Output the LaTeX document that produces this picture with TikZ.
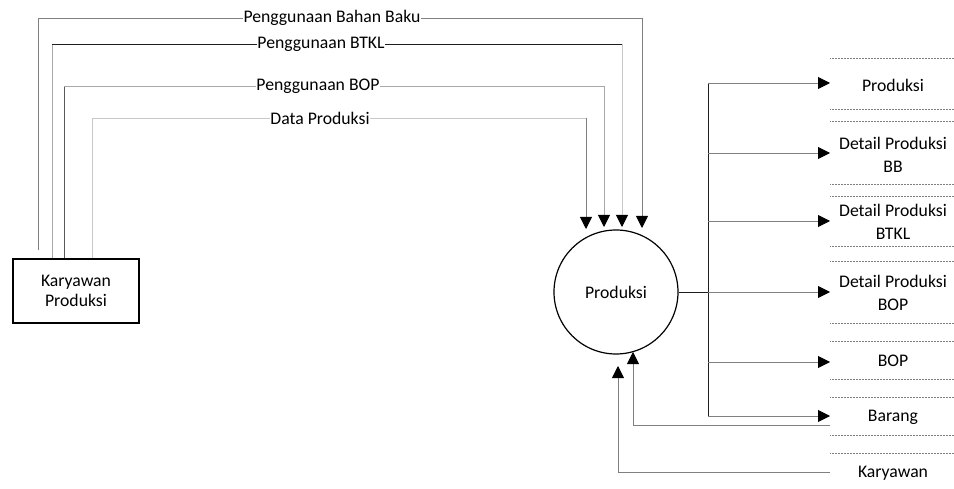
\documentclass[tikz,border=0pt]{standalone}
\usepackage{fontspec}
\setmainfont{Carlito}
\usetikzlibrary{arrows.meta}
\definecolor{gA}{HTML}{808080}
\definecolor{gB}{HTML}{A8A8A8}
\definecolor{gC}{HTML}{C8C8C8}
\definecolor{gD}{HTML}{5A5A5A}
\definecolor{gK}{HTML}{1E1E1E}
\begin{document}
\begin{tikzpicture}[x=1pt,y=-1pt,
  every node/.style={font=\fontsize{17.7}{23}\selectfont},
  ln/.style={line width=0.9pt},
  flow/.style={ln,-{Triangle[length=12pt,width=12pt,color=black]}},
  storeline/.style={gray, line width=0.6pt, dash pattern=on 0.9pt off 0.6pt},
  lbl/.style={fill=white, inner sep=0.6pt},
  storetext/.style={align=center, inner sep=0pt}]
\useasboundingbox (0,0) rectangle (954,489);

% main entities
\node[draw, line width=1.1pt, minimum width=126, minimum height=64, align=center, inner sep=0pt,
      font=\fontsize{17.7}{20.5}\selectfont] (kp) at (76,291) {Karyawan\\Produksi};
\node[draw, circle, line width=1.2pt, minimum size=124, inner sep=0pt] (proc) at (616,292) {Produksi};

% named coordinates
\coordinate (bb0) at (38,250);  \coordinate (bb1) at (38,18);  \coordinate (bb2) at (642,18);  \coordinate (bb3) at (642,228);
\coordinate (bt0) at (kp.north -| 52,0); \coordinate (bt1) at (52,44); \coordinate (bt2) at (622,44); \coordinate (bt3) at (622,227);
\coordinate (bo0) at (kp.north -| 64,0); \coordinate (bo1) at (64,86); \coordinate (bo2) at (604,86); \coordinate (bo3) at (604,227);
\coordinate (dp0) at (kp.north -| 92,0); \coordinate (dp1) at (92,118); \coordinate (dp2) at (586,118); \coordinate (dp3) at (586,229);

% Penggunaan Bahan Baku
\draw[ln,gA] (bb0) -- (bb1);
\draw[ln,gA] (bb1) -- (bb2);
\draw[flow,gA] (bb2) -- (bb3);
% Penggunaan BTKL
\draw[ln,gB] (bt0) -- (bt1);
\draw[ln,gK] (bt1) -- (bt2);
\draw[flow,gC] (bt2) -- (bt3);
% Penggunaan BOP
\draw[ln,gD] (bo0) -- (bo1);
\draw[ln,gB] (bo1) -- (bo2);
\draw[flow,gB] (bo2) -- (bo3);
% Data Produksi
\draw[ln,gC] (dp0) -- (dp1);
\draw[ln,gC] (dp1) -- (dp2);
\draw[flow,gA] (dp2) -- (dp3);

\node[lbl] (l1) at (332,18) {Penggunaan Bahan Baku};
\node[lbl] (l2) at (321,44) {Penggunaan BTKL};
\node[lbl] (l3) at (318,86) {Penggunaan BOP};
\node[lbl] (l4) at (320,118) {Data Produksi};

% data stores
\foreach \t/\b in {58/109,121/184,196/246,261/323,341/379,397/435}
  \draw[storeline] (830,\t) -- (954,\t) (830,\b) -- (954,\b);
\draw[storeline] (830,453) -- (954,453);

\node[storetext] (s1) at (893,85) {Produksi};
\node[storetext] (s2) at (893,155) {Detail Produksi\\BB};
\node[storetext] (s3) at (893,222) {Detail Produksi\\BTKL};
\node[storetext] (s4) at (893,293) {Detail Produksi\\BOP};
\node[storetext] (s5) at (893,361) {BOP};
\node[storetext] (s6) at (893,417) {Barang};
\node[storetext] (s7) at (893,473) {Karyawan};

% outputs
\coordinate (tr0) at (708,83);
\coordinate (tr1) at (708,416);
\coordinate (trm) at (708,292);
\draw[ln,gK] (proc.east) -- (trm);
\draw[ln,gK] (tr0) -- (tr1);
\foreach \y in {83,153,221,292,362,416}
  \draw[flow,gA] (708,\y) -- (830,\y);

% inputs from stores
\coordinate (in1) at (830,425);
\coordinate (in2) at (830,472);
\draw[flow,gA] (in1) -| (633,352);
\draw[flow,gA] (in2) -| (618,366);
\end{tikzpicture}
\end{document}
